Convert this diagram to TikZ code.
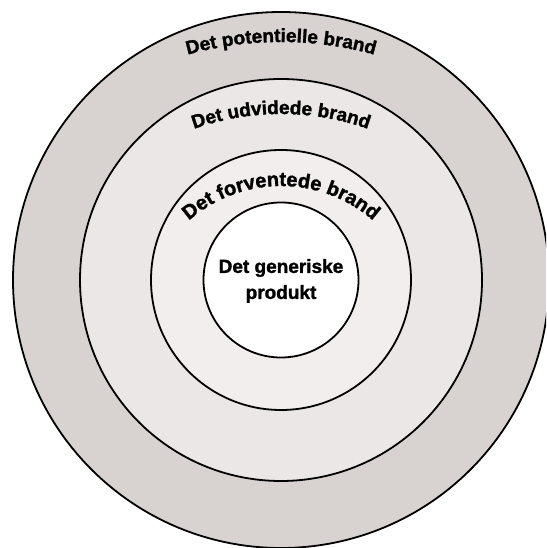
\documentclass[tikz,border=0pt]{standalone}
\usepackage{fontspec}
\setmainfont{Liberation Sans}[BoldFeatures={FakeBold=1.5}]
\usetikzlibrary{decorations.text}
\definecolor{ringA}{HTML}{D8D3D1}
\definecolor{ringB}{HTML}{EBE7E6}
\definecolor{ringC}{HTML}{F1EEED}
\tikzset{
  ring/.style={draw=black, line width=1.8pt},
  arctext/.style={decorate, decoration={text along path, text align=center, text={#1}}},
  centertext/.style={font=\bfseries\fontsize{19}{26}\selectfont, align=center, inner sep=0pt}
}
\begin{document}
\begin{tikzpicture}[x=1pt,y=1pt]
\useasboundingbox (0,0) rectangle (546,548);
\clip (0,0) rectangle (546,548);
\coordinate (C) at (281,268);
\coordinate (A1) at (281,156);
\coordinate (A2) at (281,173);
\coordinate (A3) at (281,222);
\fill[white] (0,0) rectangle (546,548);
\node[circle, ring, fill=ringA, minimum size=536pt, inner sep=0pt] (outer) at (C) {};
\node[circle, ring, fill=ringB, minimum size=402pt, inner sep=0pt] (second) at (C) {};
\node[circle, ring, fill=ringC, minimum size=260pt, inner sep=0pt] (third) at (C) {};
\node[circle, ring, fill=white, minimum size=155pt, inner sep=0pt] (inner) at (C) {};
\path[arctext={|\bfseries\fontsize{19}{19}\selectfont|Det potentielle brand}]
  (A1) ++(125:350) arc[start angle=125, end angle=55, radius=350];
\path[arctext={|\bfseries\fontsize{19}{19}\selectfont|Det udvidede brand}]
  (A2) ++(130:261) arc[start angle=130, end angle=50, radius=261];
\path[arctext={|\bfseries\fontsize{20}{20}\selectfont|Det forventede brand}]
  (A3) ++(145:140) arc[start angle=145, end angle=35, radius=140];
\node[centertext] (core) at (281,267) {Det generiske\\produkt};
\end{tikzpicture}
\end{document}
